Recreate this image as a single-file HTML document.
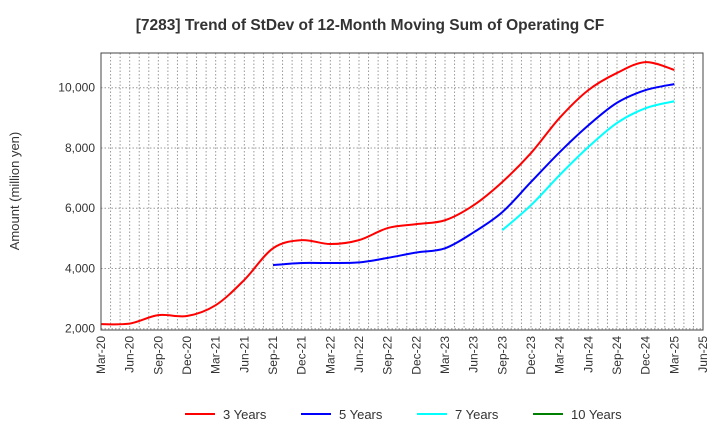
<!DOCTYPE html>
<html><head><meta charset="utf-8"><style>
body{margin:0;background:#fff;font-family:"Liberation Sans",sans-serif}
svg text{font-family:"Liberation Sans",sans-serif}
</style></head><body>
<svg id="c" width="720" height="440" xmlns="http://www.w3.org/2000/svg">
<text x="370" y="30" text-anchor="middle" font-size="15.5" font-weight="bold" fill="#333">[7283]  Trend of StDev of 12-Month Moving Sum of Operating CF</text>
<text transform="translate(19,191) rotate(-90)" text-anchor="middle" font-size="13" fill="#333">Amount (million yen)</text>
<g id="grid"></g><g id="series"></g><g id="axes"></g><g id="legend"></g>
</svg>
<script>
const xLabels=["Mar-20","Jun-20","Sep-20","Dec-20","Mar-21","Jun-21","Sep-21","Dec-21","Mar-22","Jun-22","Sep-22","Dec-22","Mar-23","Jun-23","Sep-23","Dec-23","Mar-24","Jun-24","Sep-24","Dec-24","Mar-25","Jun-25"];
const yTicks=[2000,4000,6000,8000,10000];
const s3=[2150,2170,2450,2420,2780,3620,4670,4940,4810,4940,5340,5470,5600,6100,6870,7830,9000,9920,10490,10850,10590];
const s5=[null,null,null,null,null,null,4110,4180,4180,4200,4350,4530,4670,5200,5870,6870,7860,8750,9500,9920,10120];
const s7=[null,null,null,null,null,null,null,null,null,null,null,null,null,null,5270,6100,7100,8030,8830,9320,9550];
const s10=[];
const names=["3 Years","5 Years","7 Years","10 Years"];
const colors=["#ff0000","#0000ff","#00ffff","#008000"];
const L=101,R=703,T=53,B=330;
const X=q=>L+q*3*(R-L)/63;
const Y=v=>328.7-(v-2000)*241/8000;
const NS="http://www.w3.org/2000/svg";
function mk(t,a,p){const e=document.createElementNS(NS,t);for(const k in a)e.setAttribute(k,a[k]);p.appendChild(e);return e;}
const g=document.getElementById('grid'),ax=document.getElementById('axes'),sg=document.getElementById('series'),lg=document.getElementById('legend');
for(let m=1;m<63;m++){const x=L+m*(R-L)/63;const e=mk('line',{x1:x,x2:x,y1:T,y2:B,stroke:'#999','stroke-dasharray':'1.5,2','stroke-width':1},g);

}
yTicks.forEach(v=>{const e=mk('line',{x1:L,x2:R,y1:Y(v),y2:Y(v),stroke:'#999','stroke-dasharray':'1.5,2'},g);


const t=mk('text',{x:L-6,y:Y(v)+4,'text-anchor':'end','font-size':12,fill:'#333'},ax);t.textContent=v.toLocaleString('en-US');

});
const fr=mk('rect',{x:L,y:T,width:R-L,height:B-T,fill:'none',stroke:'#444','stroke-width':1},ax);


xLabels.forEach((l,i)=>{const x=X(i);const t=mk('text',{transform:`translate(${x+4},${B+6}) rotate(-90)`,'text-anchor':'end','font-size':12,fill:'#333'},ax);t.textContent=l;

});
function path(arr){const p=[];arr.forEach((v,i)=>{if(v!=null)p.push([X(i),Y(v)]);});if(p.length<2)return '';
let d=`M${p[0][0]},${p[0][1]}`;for(let i=0;i<p.length-1;i++){const p0=p[i-1]||p[i],p1=p[i],p2=p[i+1],p3=p[i+2]||p2;
d+=` C${p1[0]+(p2[0]-p0[0])/6},${p1[1]+(p2[1]-p0[1])/6} ${p2[0]-(p3[0]-p1[0])/6},${p2[1]-(p3[1]-p1[1])/6} ${p2[0]},${p2[1]}`;}return d;}
[s3,s5,s7,s10].forEach((s,k)=>{const d=path(s);if(!d)return;const e=mk('path',{d:d,fill:'none',stroke:colors[k],'stroke-width':2},sg);

});
const lx=[185,301,417,533];
names.forEach((n,k)=>{const e=mk('g',{},lg);


mk('line',{x1:lx[k],x2:lx[k]+30,y1:414,y2:414,stroke:colors[k],'stroke-width':2},e);
const t=mk('text',{x:lx[k]+38,y:419,'font-size':13,fill:'#333'},e);t.textContent=n;});
</script>
</body></html>
